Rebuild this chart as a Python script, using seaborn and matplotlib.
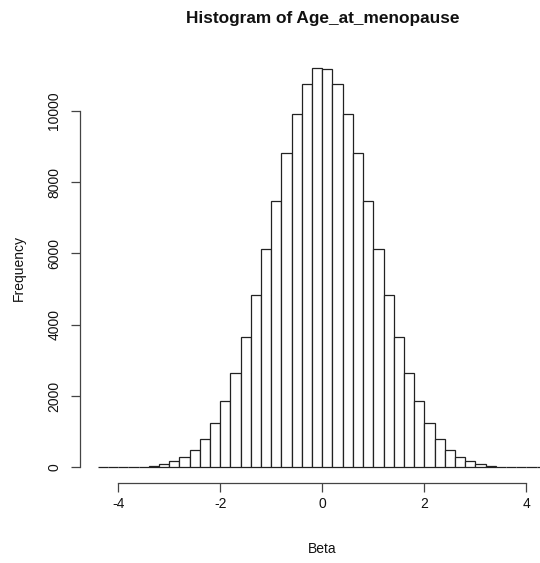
import numpy as np
import pandas as pd
import matplotlib
matplotlib.use("Agg")
import matplotlib.pyplot as plt
import seaborn as sns

# Histogram counts per 0.2-wide bin of Beta, from -4.4 to 4.4
bin_width = 0.2
bin_start = -4.4
counts = [
    1, 3, 6, 12, 20, 45, 93, 168, 280, 485, 794, 1242, 1851, 2644, 3654,
    4823, 6130, 7476, 8805, 9916, 10740, 11190,
    11170, 10750, 9920, 8800, 7480, 6130, 4820, 3650, 2640, 1850, 1240,
    795, 485, 280, 168, 93, 45, 20, 11, 5, 2, 1,
]
x_ticks = [-4, -2, 0, 2, 4]
y_ticks = [0, 2000, 4000, 6000, 8000, 10000]

title = "Histogram of Age_at_menopause"
x_label = "Beta"
y_label = "Frequency"

edges = np.round(bin_start + bin_width * np.arange(len(counts) + 1), 1)
centers = (edges[:-1] + edges[1:]) / 2
df = pd.DataFrame({"beta": centers, "n": counts})

sns.set_theme(style="ticks")
plt.rcParams["font.family"] = ["Liberation Sans", "DejaVu Sans"]

W, H = 540, 563
fig = plt.figure(figsize=(W / 100, H / 100), dpi=100)
fig.patch.set_facecolor("white")

# plot region in pixels (R-style: axes drawn at region edges)
left_px, right_px = 79.7, 540.0
top_px, bottom_px = 52.7, 483.2
ax = fig.add_axes([left_px / W, 1 - bottom_px / H,
                   (right_px - left_px) / W, (bottom_px - top_px) / H])
ax.set_facecolor("white")

sns.histplot(data=df, x="beta", weights="n", binwidth=bin_width,
             binrange=(float(edges[0]), float(edges[-1])), stat="count",
             fill=True, color="white", edgecolor="#222222", linewidth=0.9,
             alpha=1.0, ax=ax)

ax.set_xlim(-4.752, 4.265)
ax.set_ylim(-447, 11627)

ax.set_xticks(x_ticks)
ax.set_xticklabels([str(v) for v in x_ticks])
ax.set_yticks(y_ticks)
ax.set_yticklabels([str(v) for v in y_ticks])

for side in ["top", "right"]:
    ax.spines[side].set_visible(False)
ax.spines["bottom"].set_bounds(-4, 4)
ax.spines["left"].set_bounds(0, 10000)
for side in ["bottom", "left"]:
    ax.spines[side].set_color("#444444")
    ax.spines[side].set_linewidth(0.9)

ax.tick_params(axis="both", direction="out", length=6.3, width=0.9,
               color="#444444", labelsize=10, labelcolor="#111111")
ax.tick_params(axis="x", pad=3.6)
ax.tick_params(axis="y", pad=7.0, labelrotation=90)
for lab in ax.get_yticklabels():
    lab.set_va("center")
    lab.set_ha("right")

ax.set_xlabel("")
ax.set_ylabel("")

fig.text(322.3 / W, 1 - 22.7 / H, title, ha="center", va="baseline",
         fontsize=12.4, fontweight="bold", color="#111111")
fig.text(322.3 / W, 1 - 553.3 / H, x_label, ha="center", va="baseline",
         fontsize=10, color="#111111")
fig.text(19.0 / W, 1 - 268.0 / H, y_label, ha="center", va="center",
         rotation=90, fontsize=10, color="#111111")

fig.savefig("out.png", dpi=100, facecolor="white")
